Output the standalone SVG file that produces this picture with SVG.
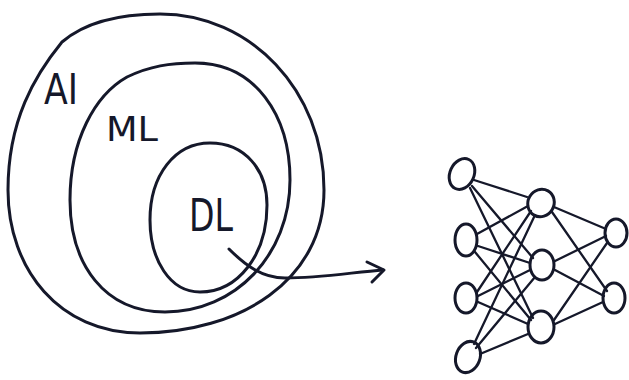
<svg xmlns="http://www.w3.org/2000/svg" width="629" height="380" viewBox="0 0 629 380">
<style>
.s{fill:none;stroke:#15182a;stroke-width:3;stroke-linecap:round;stroke-linejoin:round}
.n{fill:none;stroke:#15182a;stroke-width:3}
.e{stroke:#15182a;stroke-width:2.3;stroke-linecap:round}
.t{font-family:"DejaVu Sans",sans-serif;fill:#15182a}
</style>
<rect width="629" height="380" fill="#ffffff"/>
<g id="ai">
<path class="s" d="M62 42 C 90 18, 130 14, 160 14 C 250 14, 324 90, 324 190 C 324 280, 240 333, 140 333 C 60 333, 8 270, 8 190 C 8 120, 35 75, 62 42"/>
<text class="t" x="44" y="104" font-size="42" textLength="34" lengthAdjust="spacingAndGlyphs">AI</text>
</g>
<g id="ml">
<path class="s" d="M127 77 C 150 66, 170 63, 195 63 C 255 63, 290 115, 290 180 C 290 255, 235 312, 165 312 C 105 312, 70 265, 70 200 C 70 140, 95 95, 127 77"/>
<text class="t" x="106" y="141" font-size="34" textLength="52" lengthAdjust="spacingAndGlyphs">ML</text>
</g>
<g id="dl">
<path class="s" d="M210 143 C 245 143, 267 170, 267 205 C 267 255, 238 292, 200 292 C 170 292, 150 260, 150 220 C 150 175, 175 143, 210 143 Z"/>
<text class="t" x="189" y="231" font-size="44" textLength="44" lengthAdjust="spacingAndGlyphs">DL</text>
</g>
<g id="connectors">
<path class="s" d="M229 249 C 245 265, 262 278, 285 278 C 320 278, 355 272, 383 270"/>
<path class="s" d="M367 262 L 384 270 L 372 282"/>
<g class="e">
<line x1="474" y1="180" x2="527" y2="197"/>
<line x1="472" y1="186" x2="533" y2="258"/>
<line x1="470" y1="188" x2="533" y2="318"/>
<line x1="477" y1="234" x2="528" y2="206"/>
<line x1="478" y1="246" x2="530" y2="263"/>
<line x1="475" y1="252" x2="531" y2="320"/>
<line x1="477" y1="292" x2="531" y2="211"/>
<line x1="478" y1="296" x2="530" y2="270"/>
<line x1="478" y1="302" x2="528" y2="324"/>
<line x1="474" y1="344" x2="535" y2="215"/>
<line x1="476" y1="348" x2="535" y2="277"/>
<line x1="480" y1="354" x2="528" y2="334"/>
<line x1="554" y1="207" x2="606" y2="229"/>
<line x1="552" y1="212" x2="607" y2="291"/>
<line x1="555" y1="261" x2="606" y2="236"/>
<line x1="555" y1="270" x2="604" y2="296"/>
<line x1="554" y1="320" x2="607" y2="243"/>
<line x1="555" y1="324" x2="603" y2="302"/>
</g>
</g>
<g id="i1"><ellipse class="n" cx="462" cy="174" rx="12" ry="16" transform="rotate(25 462 174)"/></g>
<g id="i2"><ellipse class="n" cx="466" cy="240" rx="11" ry="16"/></g>
<g id="i3"><ellipse class="n" cx="466" cy="298" rx="11" ry="15"/></g>
<g id="i4"><ellipse class="n" cx="468" cy="357" rx="12" ry="16" transform="rotate(20 468 357)"/></g>
<g id="h1"><ellipse class="n" cx="541" cy="203" rx="13" ry="14" transform="rotate(30 541 203)"/></g>
<g id="h2"><ellipse class="n" cx="542" cy="265" rx="12" ry="15"/></g>
<g id="h3"><ellipse class="n" cx="541" cy="327" rx="13" ry="16"/></g>
<g id="o1"><ellipse class="n" cx="616" cy="233" rx="11" ry="14"/></g>
<g id="o2"><ellipse class="n" cx="614" cy="298" rx="11" ry="15"/></g>
</svg>
